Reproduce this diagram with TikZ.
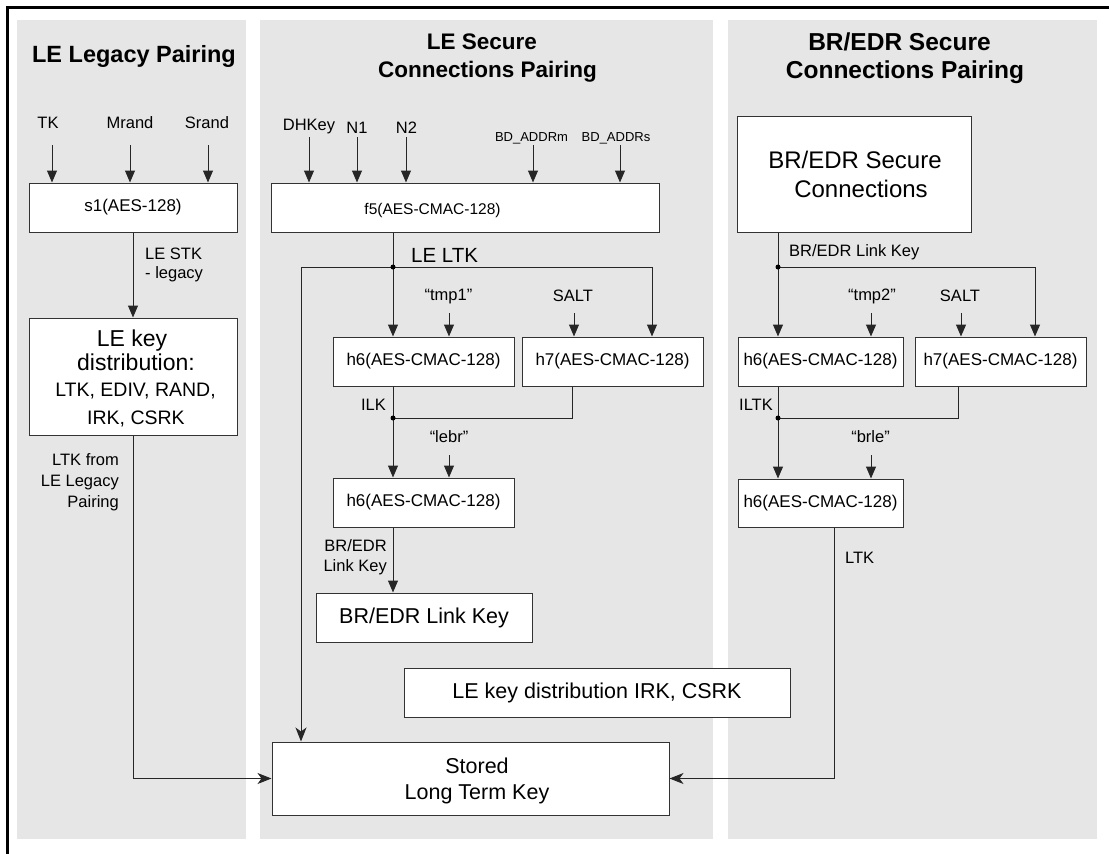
\documentclass[tikz,border=0pt]{standalone}
\usepackage{fontspec}
\setmainfont{Liberation Sans}
\usetikzlibrary{arrows.meta}
\definecolor{panelgray}{HTML}{E6E6E6}
\newcommand\fsz[1]{\fontsize{#1}{#1}\selectfont}
\begin{document}
\begin{tikzpicture}[x=1pt,y=-1pt,
  box/.style={draw=black!80, line width=1pt, fill=white, inner sep=0pt, align=center},
  txt/.style={inner sep=0pt, anchor=base},
  lbl/.style={inner sep=0pt, anchor=base, font=\fsz{16.5}},
  lblL/.style={lbl, anchor=base west},
  lblR/.style={lbl, anchor=base east},
  ttl/.style={inner sep=0pt, anchor=base, font=\bfseries\fsz{#1}},
  conn/.style={draw=black!85, line width=1pt},
  arr/.style={conn, -{Triangle[length=12pt,width=10pt]}},
  arrS/.style={conn, -{Stealth[length=14pt,width=11pt,inset=4pt]}},
  jdot/.style={circle, fill=black, inner sep=0pt, minimum size=5pt},
]
\useasboundingbox (0,0) rectangle (1109,854);
\fill[white] (0,0) rectangle (1109,854);
% panels
\fill[panelgray] (17,20) rectangle (246,839);
\fill[panelgray] (260,20) rectangle (713,839);
\fill[panelgray] (728,20) rectangle (1097,839);
% frame
\draw[line width=2.5pt] (7.5,854) -- (7.5,7.5) -- (1109,7.5);

% titles
\node[ttl=23.5] (t1) at (134,62) {LE Legacy Pairing};
\node[ttl=22.5] (t2a) at (482,49) {LE Secure};
\node[ttl=22.5] (t2b) at (487.5,77) {Connections Pairing};
\node[ttl=24.5] (t3a) at (899.5,50) {BR/EDR Secure};
\node[ttl=24.5] (t3b) at (905,78) {Connections Pairing};

% boxes
\node[box, minimum width=208pt, minimum height=49pt, font=\fsz{17}] (s1) at (133,207.5) {s1(AES-128)};
\node[box, minimum width=208pt, minimum height=117pt] (lekd) at (133,376.5) {};
\node[txt, font=\fsz{23}] (kd1) at (132,346) {LE key};
\node[txt, font=\fsz{23}] (kd2) at (136,370) {distribution:};
\node[txt, font=\fsz{19.5}] (kd3) at (135.5,396) {LTK, EDIV, RAND,};
\node[txt, font=\fsz{19.5}] (kd4) at (136,424) {IRK, CSRK};

\node[box, minimum width=388pt, minimum height=49pt] (f5) at (465,207.5) {};
\node[txt, font=\fsz{15.5}] (f5t) at (432.5,214) {f5(AES-CMAC-128)};
\node[box, minimum width=181pt, minimum height=49pt, font=\fsz{17}] (h6a) at (423.5,361.5) {h6(AES-CMAC-128)};
\node[box, minimum width=181pt, minimum height=49pt, font=\fsz{17}] (h7a) at (612.5,361.5) {h7(AES-CMAC-128)};
\node[box, minimum width=181pt, minimum height=49pt, font=\fsz{17}] (h6b) at (423.5,502.5) {h6(AES-CMAC-128)};
\node[box, minimum width=216pt, minimum height=49pt, font=\fsz{21.5}] (brlk) at (424,617.5) {BR/EDR Link Key};
\node[box, minimum width=386pt, minimum height=49pt, font=\fsz{21.5}] (lekd2) at (597,692.5) {LE key distribution IRK, CSRK};
\node[box, minimum width=397pt, minimum height=73pt] (stored) at (470.5,778.5) {};
\node[txt, font=\fsz{21.5}] (st1) at (477,773) {Stored};
\node[txt, font=\fsz{21.5}] (st2) at (477,799) {Long Term Key};

\node[box, minimum width=234pt, minimum height=116pt] (brsc) at (854,174) {};
\node[txt, font=\fsz{24}] (bs1) at (855,168) {BR/EDR Secure};
\node[txt, font=\fsz{24}] (bs2) at (861,197) {Connections};
\node[box, minimum width=165pt, minimum height=49pt, font=\fsz{17}] (h6c) at (820.5,361.5) {h6(AES-CMAC-128)};
\node[box, minimum width=171pt, minimum height=49pt, font=\fsz{17}] (h7c) at (1000.5,361.5) {h7(AES-CMAC-128)};
\node[box, minimum width=165pt, minimum height=48pt, font=\fsz{17}] (h6d) at (820.5,503) {h6(AES-CMAC-128)};

% ---------- panel 1 connectors
\node[lbl] (tk) at (48,128) {TK};
\node[lbl] (mrand) at (130,128) {Mrand};
\node[lbl] (srand) at (207,128) {Srand};
\coordinate (tkA) at (52,145);
\coordinate (mrA) at (130,145);
\coordinate (srA) at (208,145);
\draw[arr] (tkA) -- (tkA |- s1.north);
\draw[arr] (mrA) -- (mrA |- s1.north);
\draw[arr] (srA) -- (srA |- s1.north);
\draw[arr] (s1.south) -- (lekd.north);
\node[lblL] (stk1) at (145,259) {LE STK};
\node[lblL] (stk2) at (145,278) {- legacy};
\draw[arrS] (lekd.south) |- (stored.west);
\node[lblR] (lf1) at (119,465) {LTK from};
\node[lblR] (lf2) at (119,486) {LE Legacy};
\node[lblR] (lf3) at (119,507) {Pairing};

% ---------- panel 2 connectors
\node[lbl] (dh) at (309,130) {DHKey};
\node[lbl] (n1) at (357,133) {N1};
\node[lbl] (n2) at (406.5,133) {N2};
\node[lbl, font=\fsz{13}] (bdm) at (531.5,141) {BD\_ADDRm};
\node[lbl, font=\fsz{13}] (bds) at (616,141) {BD\_ADDRs};
\coordinate (dhA) at (309,137);
\coordinate (n1A) at (357,137);
\coordinate (n2A) at (406,137);
\coordinate (bdmA) at (533,145);
\coordinate (bdsA) at (620,145);
\draw[arr] (dhA) -- (dhA |- f5.north);
\draw[arr] (n1A) -- (n1A |- f5.north);
\draw[arr] (n2A) -- (n2A |- f5.north);
\draw[arr] (bdmA) -- (bdmA |- f5.north);
\draw[arr] (bdsA) -- (bdsA |- f5.north);
\coordinate (j1) at (393,267);
\coordinate (jL) at (301,267);
\coordinate (jR) at (652,267);
\draw[conn] (j1 |- f5.south) -- (j1);
\draw[conn] (jL) -- (jR);
\draw[arrS] (jL) -- (jL |- stored.north);
\draw[arr] (jR) -- (jR |- h7a.north);
\draw[arr] (j1) -- (j1 |- h6a.north);
\node[jdot] (d1) at (j1) {};
\node[lblL, font=\fsz{20.5}] (leltk) at (411,262) {LE LTK};
\node[lbl] (tmp1) at (448.5,300) {“tmp1”};
\node[lbl] (salt1) at (573,301) {SALT};
\coordinate (tmp1A) at (449,313);
\coordinate (salt1A) at (574,313);
\draw[arr] (tmp1A) -- (tmp1A |- h6a.north);
\draw[arr] (salt1A) -- (salt1A |- h7a.north);
\coordinate (j2) at (393,418);
\coordinate (h7aB) at ([xshift=-40.5pt]h7a.south);
\draw[conn] (j2 |- h6a.south) -- (j2);
\draw[conn] (h7aB) |- (j2);
\draw[arr] (j2) -- (j2 |- h6b.north);
\node[jdot] (d2) at (j2) {};
\node[lblR] (ilk) at (386,410) {ILK};
\node[lbl] (lebr) at (449,442) {“lebr”};
\coordinate (lebrA) at (449,455);
\draw[arr] (lebrA) -- (lebrA |- h6b.north);
\draw[arr] (j2 |- h6b.south) -- (j2 |- brlk.north);
\node[lblR] (bl1) at (387,551) {BR/EDR};
\node[lblR] (bl2) at (387,571) {Link Key};

% ---------- panel 3 connectors
\coordinate (j3) at (778,267);
\coordinate (jR3) at (1035,267);
\draw[conn] (j3 |- brsc.south) -- (j3) -- (jR3);
\draw[arr] (j3) -- (j3 |- h6c.north);
\draw[arr] (jR3) -- (jR3 |- h7c.north);
\node[jdot] (d3) at (j3) {};
\node[lblL] (brlkl) at (789,256) {BR/EDR Link Key};
\node[lbl] (tmp2) at (872,300) {“tmp2”};
\node[lbl] (salt2) at (960,301) {SALT};
\coordinate (tmp2A) at (871,313);
\coordinate (salt2A) at (961,313);
\draw[arr] (tmp2A) -- (tmp2A |- h6c.north);
\draw[arr] (salt2A) -- (salt2A |- h7c.north);
\coordinate (j4) at (778,418);
\coordinate (h7cB) at ([xshift=-42.5pt]h7c.south);
\draw[conn] (j4 |- h6c.south) -- (j4);
\draw[conn] (h7cB) |- (j4);
\draw[arr] (j4) -- (j4 |- h6d.north);
\node[jdot] (d4) at (j4) {};
\node[lblR] (iltk) at (773,410) {ILTK};
\node[lbl] (brle) at (870.5,442) {“brle”};
\coordinate (brleA) at (871,455);
\draw[arr] (brleA) -- (brleA |- h6d.north);
\coordinate (h6dB) at ([xshift=13.5pt]h6d.south);
\draw[arrS] (h6dB) |- (stored.east);
\node[lblL] (ltk3) at (845,563) {LTK};
\end{tikzpicture}
\end{document}
